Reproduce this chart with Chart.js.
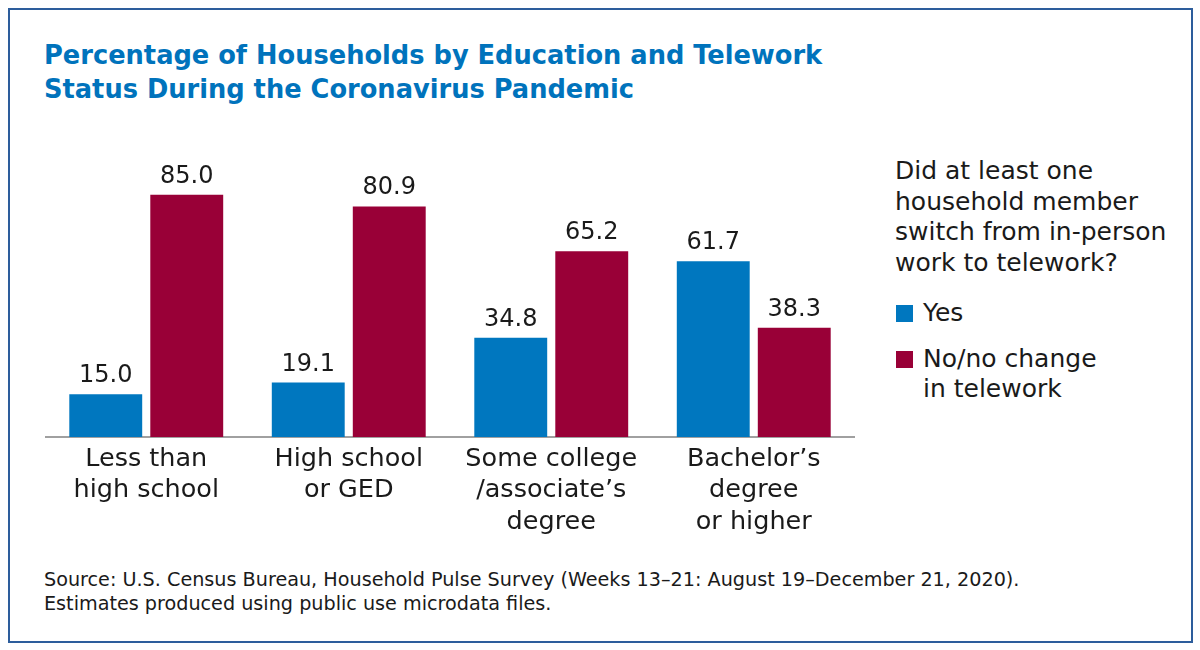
<!DOCTYPE html>
<html>
<head>
<meta charset="utf-8">
<script src="https://cdn.jsdelivr.net/npm/chart.js@4.4.1/dist/chart.umd.min.js"></script>
<style>
  html, body { margin: 0; padding: 0; background: #fff; }
  body { width: 1200px; height: 650px; position: relative; overflow: hidden; font-family: "DejaVu Sans", sans-serif; color: #1a1a1a; }
  .frame { position: absolute; left: 8px; top: 8px; width: 1181px; height: 631px; border: 2px solid #2d5d9c; }
  .title { position: absolute; left: 44px; top: 38px; font-weight: bold; font-size: 25.7px; line-height: 34px; color: #0073bc; }
  .chart-wrap { position: absolute; left: 45px; top: 140px; width: 810px; height: 400px; }
  .legend { position: absolute; left: 895px; top: 156px; font-size: 25px; line-height: 30.5px; }
  .legend .item { position: relative; padding-left: 28px; margin-top: 20px; }
  .legend .item + .item { margin-top: 15px; }
  .legend .swatch { position: absolute; left: 1px; top: 7px; width: 17px; height: 17px; }
  .source { position: absolute; left: 44px; top: 568px; font-size: 19.2px; line-height: 24px; }
</style>
</head>
<body>
<div class="frame"></div>
<div class="title">Percentage of Households by Education and Telework<br>Status During the Coronavirus Pandemic</div>
<div class="chart-wrap"><canvas id="chart"></canvas></div>
<div class="legend" id="legend"></div>
<div class="source">Source: U.S. Census Bureau, Household Pulse Survey (Weeks 13–21: August 19–December 21, 2020).<br>Estimates produced using public use microdata files.</div>

<script>
// Chart data
const categories = [
  ['Less than', 'high school'],
  ['High school', 'or GED'],
  ['Some college', '/associate’s', 'degree'],
  ['Bachelor’s', 'degree', 'or higher']
];
const yesValues = [15.0, 19.1, 34.8, 61.7];
const noValues = [85.0, 80.9, 65.2, 38.3];
const seriesNames = ['Yes', 'No/no change in telework'];

const colors = {
  blue: '#0077bf',
  red: '#990037',
  text: '#1a1a1a',
  axis: '#a0a0a0'
};

const fontFamily = '"DejaVu Sans", sans-serif';

// Value labels above bars
const valueLabels = {
  id: 'valueLabels',
  afterDatasetsDraw(chart) {
    const ctx = chart.ctx;
    ctx.save();
    ctx.font = '24px ' + fontFamily;
    ctx.fillStyle = colors.text;
    ctx.textAlign = 'center';
    ctx.textBaseline = 'alphabetic';
    chart.data.datasets.forEach((ds, i) => {
      chart.getDatasetMeta(i).data.forEach((bar, j) => {
        ctx.fillText(ds.data[j].toFixed(1), bar.x, bar.y - 12);
      });
    });
    ctx.restore();
  }
};

const ctx = document.getElementById('chart').getContext('2d');
new Chart(ctx, {
  type: 'bar',
  data: {
    labels: categories,
    datasets: [{
      label: seriesNames[0],
      data: yesValues,
      backgroundColor: colors.blue
    }, {
      label: seriesNames[1],
      data: noValues,
      backgroundColor: colors.red
    }]
  },
  options: {
    responsive: true,
    maintainAspectRatio: false,
    animation: false,
    layout: { padding: { top: 12, left: 0, right: 0, bottom: 0 } },
    plugins: {
      legend: { display: false },
      tooltip: { enabled: false }
    },
    scales: {
      x: {
        grid: { display: false },
        border: { display: true, color: colors.axis, width: 2 },
        ticks: {
          color: colors.text,
          font: { family: fontFamily, size: 25.5, lineHeight: 1.25 },
          padding: -2,
          maxRotation: 0
        },
        afterFit(scale) { scale.height = 103; }
      },
      y: {
        display: false,
        min: 0,
        max: 100
      }
    }
  },
  plugins: [valueLabels]
});

// HTML legend
const legendEl = document.getElementById('legend');
legendEl.innerHTML = '<div>Did at least one<br>household member<br>switch from in-person<br>work to telework?</div>' +
  seriesNames.map((name, i) => {
    const c = i === 0 ? colors.blue : colors.red;
    const text = i === 0 ? name : 'No/no change<br>in telework';
    return `<div class="item"><span class="swatch" style="background:${c}"></span>${text}</div>`;
  }).join('');
</script>
</body>
</html>
